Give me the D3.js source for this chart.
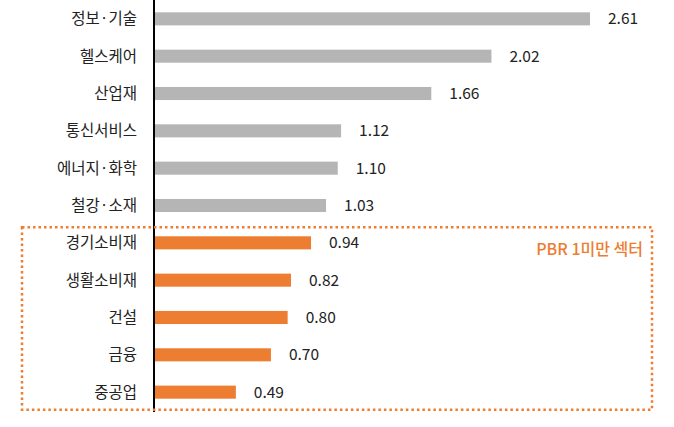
<!DOCTYPE html>
<html><head><meta charset="utf-8">
<script src="https://cdn.jsdelivr.net/npm/d3@7"></script>
<style>body{margin:0;background:#fff}</style></head>
<body><svg id="c" width="674" height="427"></svg>
<script>
const categories=["정보·기술","헬스케어","산업재","통신서비스","에너지·화학","철강·소재","경기소비재","생활소비재","건설","금융","중공업"];
const values=[2.61,2.02,1.66,1.12,1.10,1.03,0.94,0.82,0.80,0.70,0.49];
const valueLabels=["2.61","2.02","1.66","1.12","1.10","1.03","0.94","0.82","0.80","0.70","0.49"];
const highlightLabel="PBR 1미만 섹터";
(function(){
const svg=d3.select("#c");
const font="'Noto Sans CJK KR','Noto Sans',sans-serif";
const x=d3.scaleLinear().domain([0,2.61]).range([154,590]);
const y=d3.scaleBand().domain(categories).range([0,411]).paddingInner(0.65).paddingOuter(0.33);
svg.selectAll("rect.bar").data(categories).join("rect")
 .attr("x",x(0)).attr("y",d=>y(d)).attr("height",y.bandwidth())
 .attr("width",(d,i)=>x(values[i])-x(0))
 .attr("fill",(d,i)=>values[i]<1?"#ed7d31":"#b5b5b5");
svg.selectAll("text.cat").data(categories).join("text")
 .attr("x",137).attr("y",d=>y(d)+y.bandwidth()/2).attr("dy","0.35em")
 .attr("text-anchor","end").attr("font-family",font).attr("font-size",15.5).attr("fill","#222").text(d=>d);
svg.selectAll("text.val").data(categories).join("text")
 .attr("x",(d,i)=>x(values[i])+18).attr("y",d=>y(d)+y.bandwidth()/2).attr("dy","0.35em")
 .attr("font-family",font).attr("font-size",15.5).attr("fill","#222").text((d,i)=>valueLabels[i]);
svg.append("line").attr("x1",154).attr("x2",154).attr("y1",0).attr("y2",412).attr("stroke","#000").attr("stroke-width",2);
const boxTop=y(categories[6])-9, boxBot=y(categories[10])+y.bandwidth()+11;
svg.append("rect").attr("x",22).attr("y",boxTop).attr("width",630).attr("height",boxBot-boxTop)
 .attr("fill","none").attr("stroke","#ed7d31").attr("stroke-width",2.5).attr("stroke-dasharray","2.5,3");
svg.append("text").attr("x",643).attr("y",boxTop+22).attr("dy","0.35em").attr("text-anchor","end")
 .attr("font-family",font).attr("font-size",16).attr("font-weight",500).attr("fill","#ed7d31").text(highlightLabel);
})();
</script></body></html>
